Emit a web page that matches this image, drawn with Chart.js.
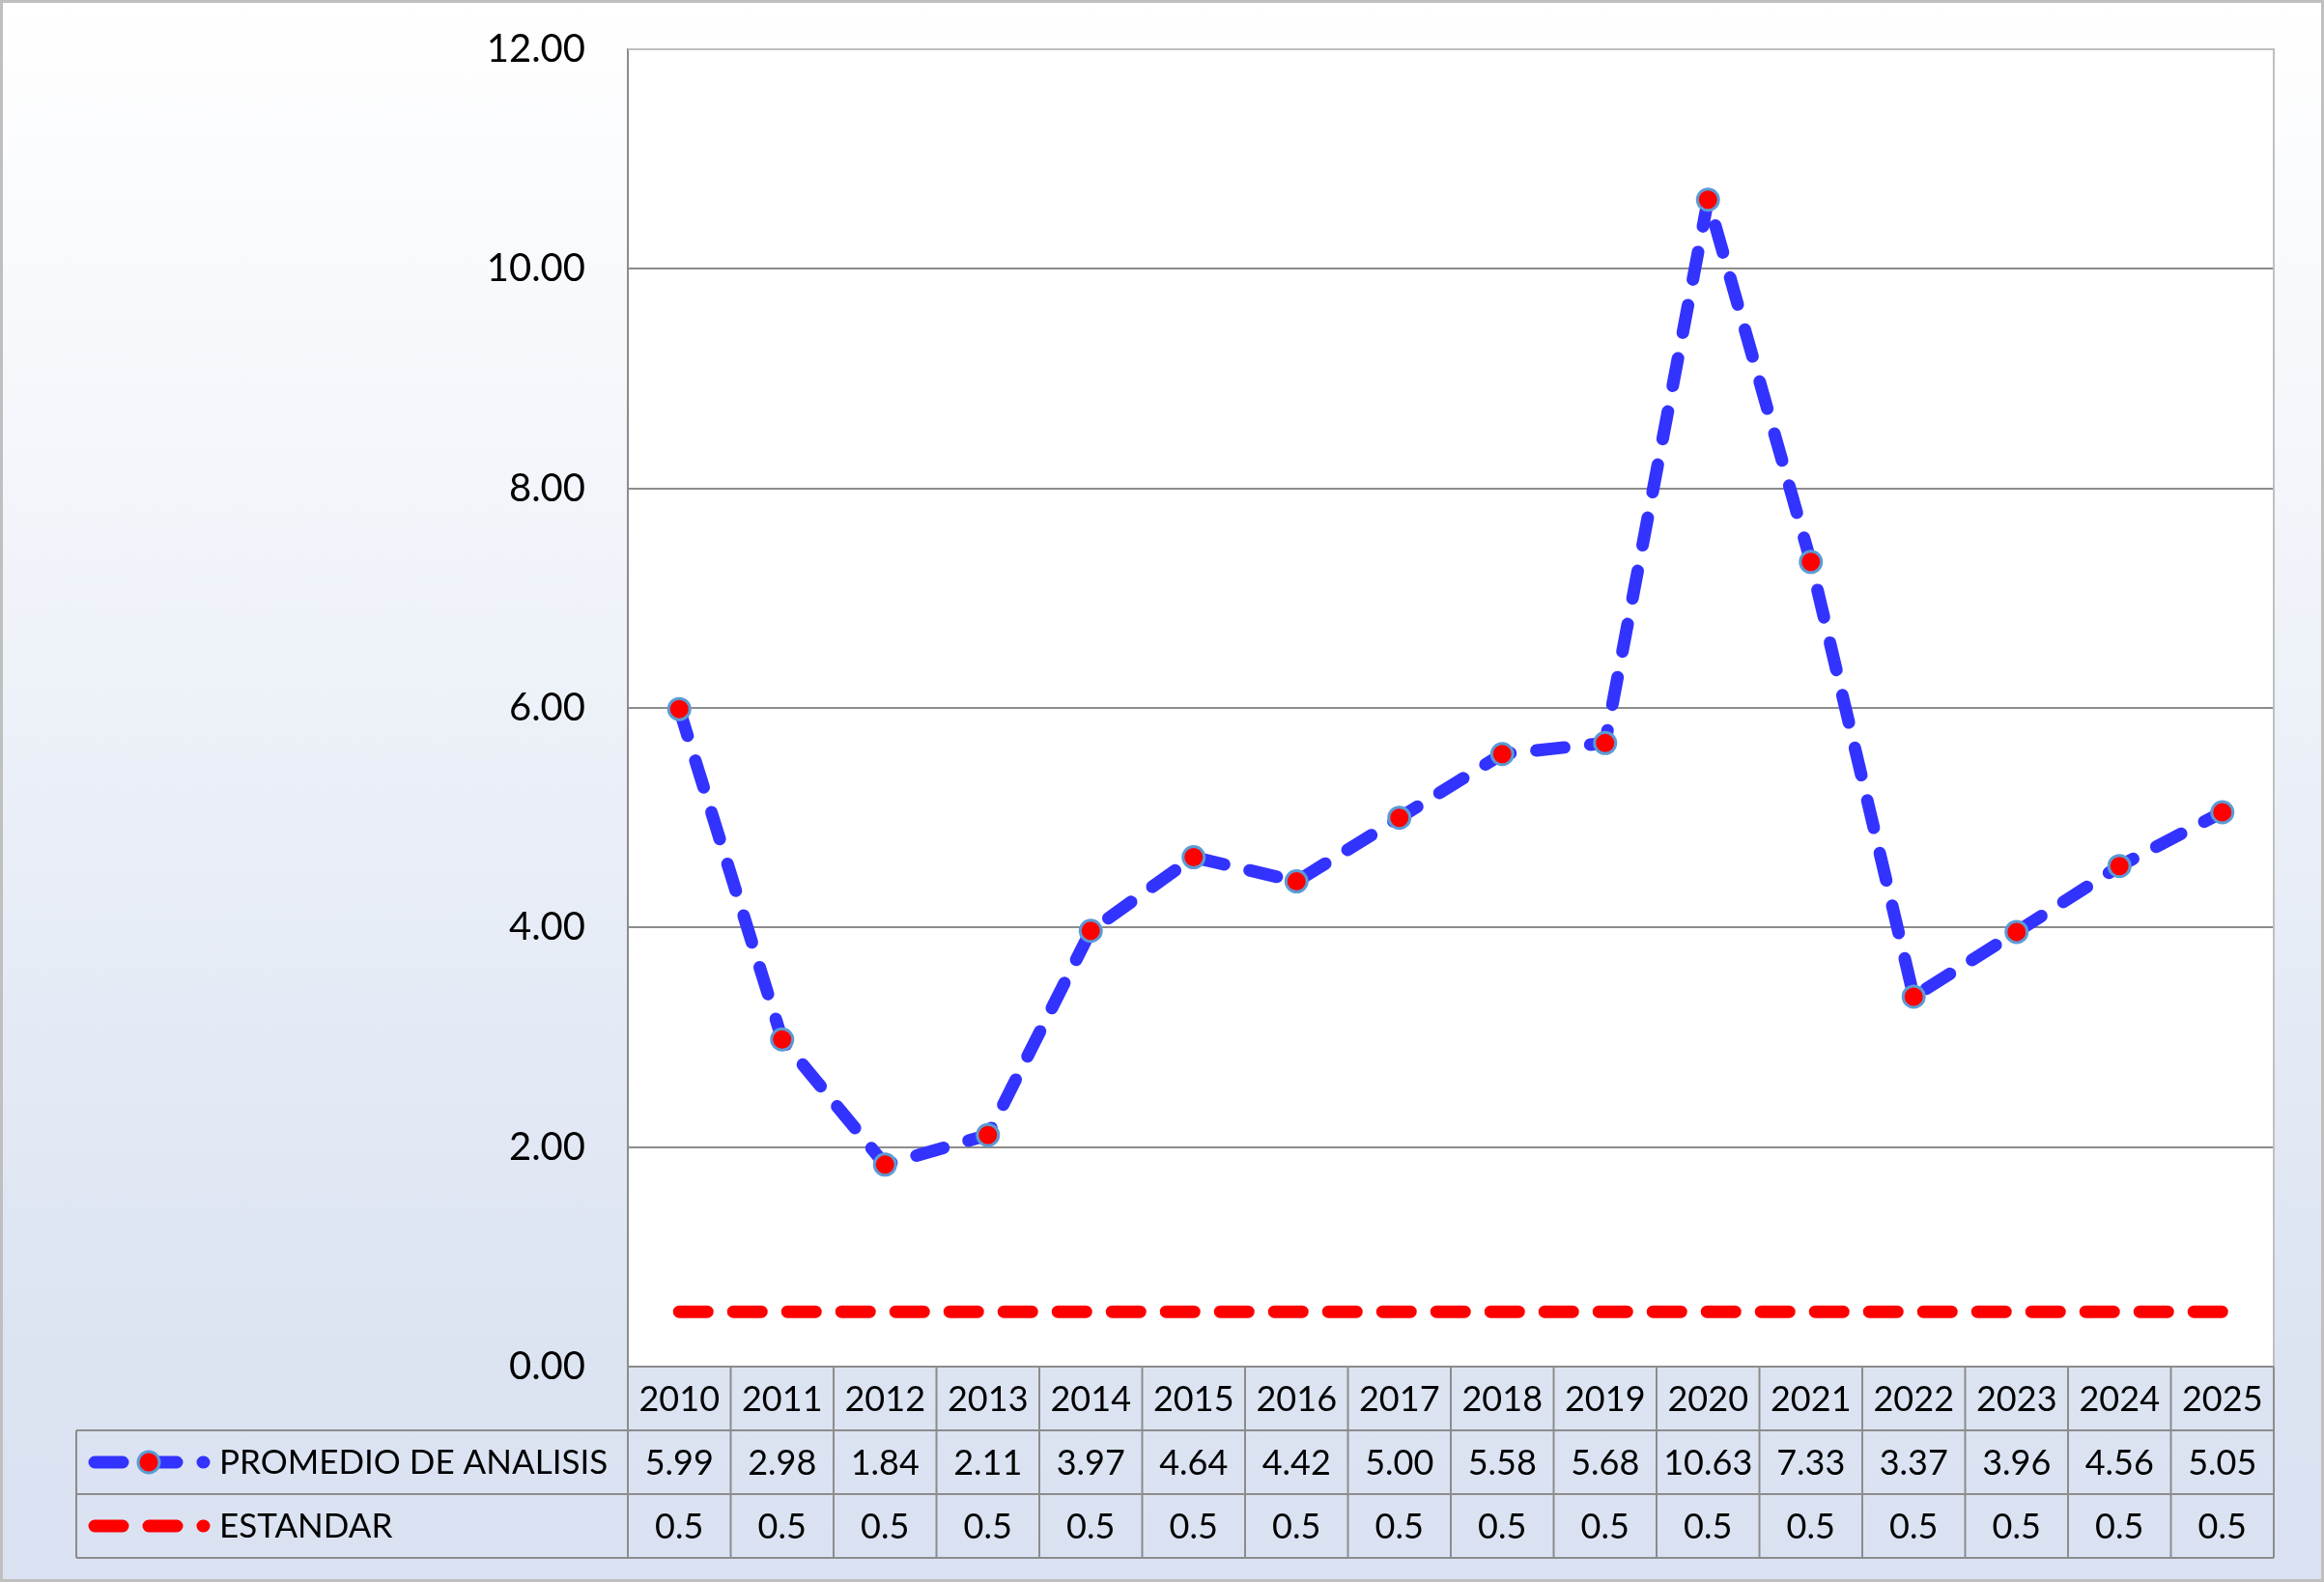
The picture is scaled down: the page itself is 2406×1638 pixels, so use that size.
<!DOCTYPE html>
<html>
<head>
<meta charset="utf-8">
<script src="https://cdn.jsdelivr.net/npm/chart.js@4/dist/chart.umd.min.js"></script>
<style>
  html, body { margin: 0; padding: 0; background: #fff; }
  canvas { display: block; }
</style>
</head>
<body>
<canvas id="chart" width="2406" height="1638"></canvas>
<script>
const years = ['2010','2011','2012','2013','2014','2015','2016','2017','2018','2019','2020','2021','2022','2023','2024','2025'];
const promedio = [5.99, 2.98, 1.84, 2.11, 3.97, 4.64, 4.42, 5.00, 5.58, 5.68, 10.63, 7.33, 3.37, 3.96, 4.56, 5.05];
const estandar = [0.5, 0.5, 0.5, 0.5, 0.5, 0.5, 0.5, 0.5, 0.5, 0.5, 0.5, 0.5, 0.5, 0.5, 0.5, 0.5];
const seriesNames = ['PROMEDIO DE ANALISIS', 'ESTANDAR'];
const yMin = 0, yMax = 12, yStep = 2;

const FONT = 'Lato';
const GRID = '#8c8c8c';
const DASH = [29, 27];

// fondo degradado + borde exterior
const backgroundPlugin = {
    id: 'bg',
    beforeDraw(chart) {
        const { ctx, width, height, chartArea: a } = chart;
        ctx.save();
        const g = ctx.createLinearGradient(0, 0, 0, height);
        g.addColorStop(0, '#ffffff');
        g.addColorStop(0.85, '#dce4f2');
        g.addColorStop(1, '#dae2f2');
        ctx.fillStyle = g;
        ctx.fillRect(0, 0, width, height);
        ctx.fillStyle = '#ffffff';
        ctx.fillRect(a.left, a.top, a.right - a.left, a.bottom - a.top);
        ctx.restore();
    },
    afterDraw(chart) {
        const { ctx, width, height, chartArea: a } = chart;
        ctx.save();
        ctx.strokeStyle = '#bfbfbf';
        ctx.lineWidth = 2;
        ctx.beginPath();
        ctx.moveTo(a.left, a.top); ctx.lineTo(a.right, a.top); ctx.lineTo(a.right, a.bottom);
        ctx.stroke();
        ctx.lineWidth = 3;
        ctx.strokeRect(1.5, 1.5, width - 3, height - 3);
        ctx.restore();
    }
};

// tabla de datos bajo el eje X
const tablePlugin = {
    id: 'dataTable',
    afterDraw(chart) {
        const { ctx, chartArea: a } = chart;
        const x = chart.scales.x;
        const n = years.length;
        const colW = (a.right - a.left) / n;
        const rowH = 66;
        const top = a.bottom;
        const labelLeft = 79;

        ctx.save();
        ctx.strokeStyle = GRID;
        ctx.lineWidth = 2;

        // lineas horizontales
        ctx.beginPath();
        ctx.moveTo(a.left, top); ctx.lineTo(a.right, top);
        for (let r = 1; r <= 3; r++) {
            ctx.moveTo(labelLeft, top + r * rowH);
            ctx.lineTo(a.right, top + r * rowH);
        }
        // lineas verticales
        for (let i = 0; i <= n; i++) {
            const px = a.left + i * colW;
            ctx.moveTo(px, top); ctx.lineTo(px, top + 3 * rowH);
        }
        ctx.moveTo(labelLeft, top + rowH); ctx.lineTo(labelLeft, top + 3 * rowH);
        ctx.stroke();

        ctx.fillStyle = '#000';
        ctx.font = `36px ${FONT}`;
        ctx.textAlign = 'center';
        ctx.textBaseline = 'middle';
        years.forEach((yr, i) => {
            const cx = x.getPixelForValue(i);
            ctx.fillText(yr, cx, top + rowH * 0.5 + 1);
            ctx.fillText(promedio[i].toFixed(2), cx, top + rowH * 1.5 + 1);
            ctx.fillText(String(estandar[i]), cx, top + rowH * 2.5 + 1);
        });

        // claves de leyenda
        chart.data.datasets.forEach((ds, k) => {
            const cy = top + rowH * (k + 1.5);
            ctx.save();
            ctx.strokeStyle = ds.borderColor;
            ctx.lineWidth = ds.borderWidth;
            ctx.lineCap = 'round';
            ctx.setLineDash(DASH);
            ctx.beginPath();
            ctx.moveTo(98, cy); ctx.lineTo(211, cy);
            ctx.stroke();
            ctx.restore();
            if (ds.pointRadius > 0) {
                ctx.beginPath();
                ctx.arc(154, cy, ds.pointRadius, 0, Math.PI * 2);
                ctx.fillStyle = ds.pointBackgroundColor;
                ctx.fill();
                ctx.lineWidth = ds.pointBorderWidth;
                ctx.strokeStyle = ds.pointBorderColor;
                ctx.stroke();
            }
            ctx.fillStyle = '#000';
            ctx.textAlign = 'left';
            ctx.font = `35px ${FONT}`;
            ctx.fillText(seriesNames[k], 227, cy + 1);
        });
        ctx.restore();
    }
};

new Chart(document.getElementById('chart').getContext('2d'), {
    type: 'line',
    data: {
        labels: years,
        datasets: [
            {
                label: seriesNames[0],
                data: promedio,
                borderColor: '#3333ff',
                borderWidth: 13,
                borderDash: DASH,
                borderCapStyle: 'round',
                borderJoinStyle: 'round',
                tension: 0,
                pointRadius: 11,
                pointBackgroundColor: '#ff0000',
                pointBorderColor: '#5b9bd5',
                pointBorderWidth: 3
            },
            {
                label: seriesNames[1],
                data: estandar,
                borderColor: '#ff0000',
                borderWidth: 13,
                borderDash: DASH,
                borderCapStyle: 'round',
                borderJoinStyle: 'round',
                tension: 0,
                pointRadius: 0
            }
        ]
    },
    options: {
        responsive: false,
        animation: false,
        layout: { padding: { left: 0, right: 52, top: 51, bottom: 223 } },
        plugins: {
            legend: { display: false },
            tooltip: { enabled: false }
        },
        scales: {
            x: { display: false, offset: true },
            y: {
                min: yMin,
                max: yMax,
                afterFit: (s) => { s.width = 650; },
                ticks: {
                    stepSize: yStep,
                    padding: 0,
                    color: '#000',
                    font: { family: FONT, size: 40 },
                    callback: (v) => Number(v).toFixed(2)
                },
                grid: {
                    drawTicks: true,
                    tickLength: 44,
                    tickColor: 'rgba(0,0,0,0)',
                    color: (c) => c.tick && c.tick.value === yMax ? '#bfbfbf' : GRID,
                    lineWidth: 2
                },
                border: { color: GRID, width: 2 }
            }
        }
    },
    plugins: [backgroundPlugin, tablePlugin]
});
</script>
</body>
</html>
